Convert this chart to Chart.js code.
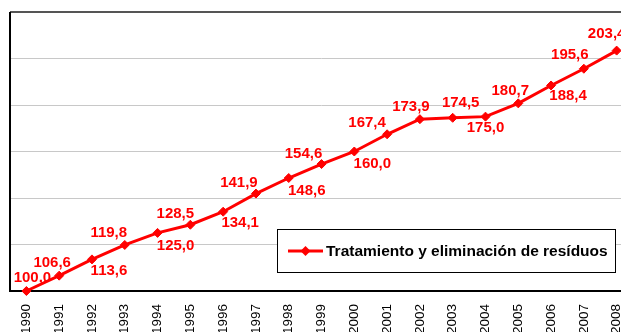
<!DOCTYPE html>
<html>
<head>
<meta charset="utf-8">
<script src="https://cdn.jsdelivr.net/npm/chart.js@4/dist/chart.umd.min.js"></script>
<style>
  html, body { margin: 0; padding: 0; background: #fff; overflow: hidden; }
  #wrap { position: absolute; left: 0; top: 0; width: 646px; height: 345px; }
</style>
</head>
<body>
<div id="wrap"><canvas id="chart"></canvas></div>
<script>
'use strict';

const years = ['1990', '1991', '1992', '1993', '1994', '1995', '1996', '1997', '1998', '1999',
  '2000', '2001', '2002', '2003', '2004', '2005', '2006', '2007', '2008'];
const indice = [100.0, 106.6, 113.6, 119.8, 125.0, 128.5, 134.1, 141.9, 148.6, 154.6,
  160.0, 167.4, 173.9, 174.5, 175.0, 180.7, 188.4, 195.6, 203.4];
const serieName = 'Tratamiento y eliminación de resíduos';

// where each value label sits relative to its point (dx, dy)
const labelOffset = [[6, -13], [-7, -13], [17, 11], [-16, -12], [18, 13], [-15, -11], [17, 11],
  [-17, -11], [18, 13], [-18, -10], [18, 12], [-20, -11], [-9, -12], [8, -15], [0, 11],
  [-8, -13], [17, 10], [-14, -14], [-10, -17]];

const RED = '#ff0000';
const FONT = '"Liberation Sans", Arial, sans-serif';
Chart.defaults.font.family = FONT;

const fmt = v => v.toFixed(1).replace('.', ',');

// plot frame: grey top edge, black left and bottom axes
const framePlugin = {
  id: 'frame',
  beforeDatasetsDraw(chart) {
    const { ctx, chartArea: a } = chart;
    ctx.save();
    ctx.lineWidth = 2;
    ctx.strokeStyle = '#555';
    ctx.beginPath();
    ctx.moveTo(a.left, a.top);
    ctx.lineTo(a.right, a.top);
    ctx.stroke();
    ctx.strokeStyle = '#000';
    ctx.beginPath();
    ctx.moveTo(a.left, a.top);
    ctx.lineTo(a.left, a.bottom);
    ctx.lineTo(a.right, a.bottom);
    ctx.stroke();
    ctx.restore();
  }
};

// value labels and the boxed legend
const labelPlugin = {
  id: 'valueLabels',
  afterDraw(chart) {
    const { ctx } = chart;
    const meta = chart.getDatasetMeta(0);
    ctx.save();
    ctx.font = 'bold 15px ' + FONT;
    ctx.fillStyle = RED;
    ctx.textAlign = 'center';
    ctx.textBaseline = 'middle';
    meta.data.forEach((pt, i) => {
      const [dx, dy] = labelOffset[i];
      ctx.fillText(fmt(indice[i]), pt.x + dx, pt.y + dy);
    });

    // legend box
    const bx = 277.5, by = 229.5, bw = 338, bh = 43;
    ctx.fillStyle = '#fff';
    ctx.fillRect(bx, by, bw, bh);
    ctx.strokeStyle = '#000';
    ctx.lineWidth = 1;
    ctx.strokeRect(bx, by, bw, bh);
    const ly = by + bh / 2;
    ctx.strokeStyle = RED;
    ctx.lineWidth = 3;
    ctx.beginPath();
    ctx.moveTo(288, ly);
    ctx.lineTo(323, ly);
    ctx.stroke();
    ctx.fillStyle = RED;
    ctx.beginPath();
    ctx.moveTo(305.5, ly - 5);
    ctx.lineTo(310.5, ly);
    ctx.lineTo(305.5, ly + 5);
    ctx.lineTo(300.5, ly);
    ctx.closePath();
    ctx.fill();
    ctx.fillStyle = '#000';
    ctx.font = 'bold 15.5px ' + FONT;
    ctx.textAlign = 'left';
    ctx.fillText(serieName, 326, ly + 1);
    ctx.restore();
  }
};

new Chart(document.getElementById('chart'), {
  type: 'line',
  data: {
    labels: years,
    datasets: [{
      label: serieName,
      data: indice,
      borderColor: RED,
      backgroundColor: RED,
      borderWidth: 3,
      pointStyle: 'rectRot',
      pointRadius: 4.5,
      pointBorderWidth: 1,
      pointBackgroundColor: RED,
      pointBorderColor: RED,
      tension: 0,
      clip: false
    }]
  },
  options: {
    responsive: true,
    maintainAspectRatio: false,
    animation: false,
    layout: { padding: { left: 10, top: 12, right: 6, bottom: 0 } },
    plugins: { legend: { display: false }, tooltip: { enabled: false } },
    scales: {
      x: {
        offset: true,
        grid: { display: false, drawTicks: false },
        border: { display: false },
        ticks: {
          minRotation: 90, maxRotation: 90, autoSkip: false,
          padding: 13, color: '#000', font: { size: 13.5 }
        },
        afterFit(scale) { scale.height = 54; }
      },
      y: {
        min: 100, max: 220,
        ticks: { display: false, stepSize: 20 },
        grid: { color: '#c8c8c8', lineWidth: 1, drawTicks: false },
        border: { display: false },
        afterFit(scale) { scale.width = 0; }
      }
    }
  },
  plugins: [framePlugin, labelPlugin]
});
</script>
</body>
</html>
